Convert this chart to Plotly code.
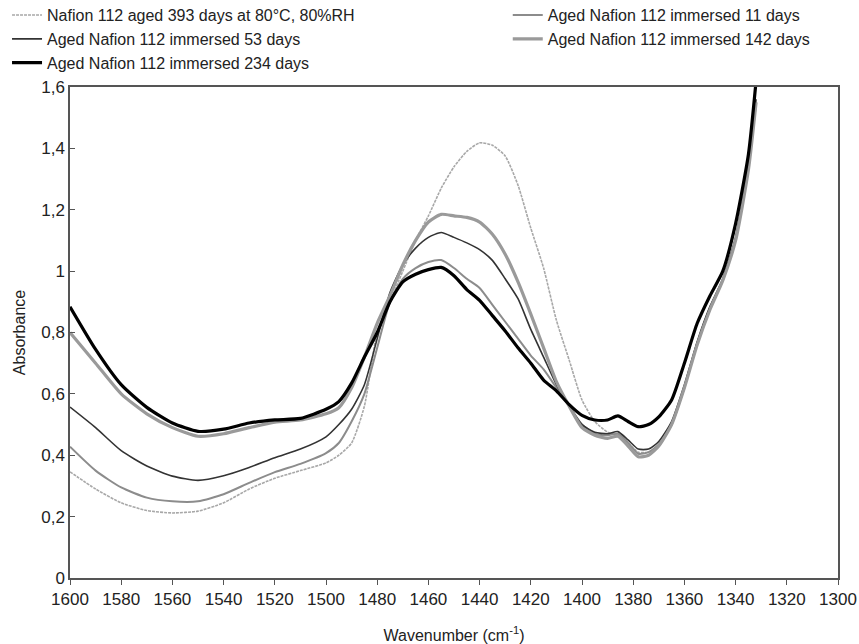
import plotly.graph_objects as go

wavenumber = [1600, 1590, 1580, 1570, 1560, 1550, 1540, 1530, 1520, 1510, 1500, 1495, 1490,
              1485, 1480, 1475, 1470, 1465, 1460, 1455, 1450, 1445, 1440, 1435, 1430, 1425,
              1420, 1415, 1410, 1405, 1400, 1395, 1390, 1386, 1382, 1378, 1374, 1370, 1365,
              1360, 1355, 1350, 1345, 1340, 1335, 1332]

aged_393 = [0.346, 0.29, 0.245, 0.22, 0.212, 0.218, 0.245, 0.29, 0.325, 0.35, 0.375, 0.40, 0.44,
            0.56, 0.80, 0.90, 1.00, 1.10, 1.18, 1.27, 1.34, 1.39, 1.418, 1.41, 1.375, 1.28,
            1.14, 1.01, 0.84, 0.71, 0.58, 0.51, 0.475, 0.465, 0.44, 0.41, 0.41, 0.43, 0.50,
            0.62, 0.765, 0.88, 0.97, 1.10, 1.33, 1.55]
imm_11 = [0.428, 0.35, 0.295, 0.262, 0.25, 0.25, 0.273, 0.31, 0.345, 0.372, 0.407, 0.44, 0.51,
          0.60, 0.75, 0.90, 0.975, 1.01, 1.03, 1.036, 1.01, 0.975, 0.945, 0.89, 0.835, 0.78,
          0.725, 0.68, 0.62, 0.56, 0.50, 0.47, 0.465, 0.47, 0.44, 0.405, 0.41, 0.435, 0.50,
          0.62, 0.765, 0.88, 0.97, 1.105, 1.335, 1.55]
imm_53 = [0.557, 0.49, 0.415, 0.365, 0.332, 0.318, 0.333, 0.36, 0.392, 0.42, 0.46, 0.50, 0.55,
          0.63, 0.78, 0.93, 1.02, 1.075, 1.11, 1.126, 1.11, 1.092, 1.07, 1.035, 0.975, 0.91,
          0.81, 0.72, 0.63, 0.56, 0.50, 0.475, 0.47, 0.477, 0.45, 0.42, 0.42, 0.445, 0.51,
          0.63, 0.77, 0.885, 0.975, 1.11, 1.34, 1.56]
imm_142 = [0.80, 0.70, 0.60, 0.535, 0.49, 0.462, 0.47, 0.49, 0.508, 0.515, 0.535, 0.555, 0.62,
           0.72, 0.83, 0.92, 1.02, 1.10, 1.16, 1.185, 1.18, 1.175, 1.16, 1.12, 1.055, 0.965,
           0.86, 0.75, 0.64, 0.56, 0.49, 0.465, 0.455, 0.462, 0.43, 0.395, 0.40, 0.43, 0.50,
           0.62, 0.76, 0.875, 0.97, 1.10, 1.33, 1.55]
imm_234 = [0.884, 0.745, 0.63, 0.556, 0.505, 0.478, 0.485, 0.505, 0.515, 0.52, 0.55, 0.575, 0.635,
           0.72, 0.80, 0.90, 0.965, 0.99, 1.005, 1.012, 0.985, 0.94, 0.905, 0.855, 0.805, 0.75,
           0.70, 0.645, 0.61, 0.565, 0.53, 0.515, 0.515, 0.528, 0.51, 0.493, 0.50, 0.525, 0.58,
           0.70, 0.83, 0.92, 1.00, 1.155, 1.38, 1.62]

series_names = ["Nafion 112 aged 393 days at 80°C, 80%RH",
                "Aged Nafion 112 immersed 11 days",
                "Aged Nafion 112 immersed 53 days",
                "Aged Nafion 112 immersed 142 days",
                "Aged Nafion 112 immersed 234 days"]
series_values = [aged_393, imm_11, imm_53, imm_142, imm_234]
series_colors = ["#a8a8a8", "#8c8c8c", "#333333", "#9a9a9a", "#000000"]
series_widths = [1.6, 2.0, 1.6, 3.2, 3.2]
series_dash = ["3px,1px", "solid", "solid", "solid", "solid"]
series_legend = ["legend", "legend2", "legend", "legend2", "legend"]

y_tickvals = [0, 0.2, 0.4, 0.6, 0.8, 1.0, 1.2, 1.4, 1.6]
y_ticktext = ["0", "0,2", "0,4", "0,6", "0,8", "1", "1,2", "1,4", "1,6"]
x_tickvals = list(range(1600, 1299, -20))

fig = go.Figure()
for name, vals, col, w, d, lg in zip(series_names, series_values, series_colors,
                                     series_widths, series_dash, series_legend):
    fig.add_trace(go.Scatter(x=wavenumber, y=vals, mode="lines", name=name, legend=lg,
                             line=dict(color=col, width=w, dash=d, shape="spline", smoothing=0.6)))

font_family = "Liberation Sans, Arial, sans-serif"
legend_common = dict(orientation="v", yanchor="top", xanchor="left", itemwidth=30,
                     tracegroupgap=0, font=dict(size=16, color="#222"),
                     bgcolor="rgba(0,0,0,0)")
fig.update_layout(
    width=859, height=644,
    margin=dict(l=70, r=21, t=87, b=66, autoexpand=False),
    paper_bgcolor="white", plot_bgcolor="white",
    font=dict(family=font_family, size=16, color="#222"),
    legend=dict(x=-0.082, y=1.181, **legend_common),
    legend2=dict(x=0.570, y=1.181, **legend_common),
    xaxis=dict(range=[1600, 1300], tickvals=x_tickvals, showgrid=False, zeroline=False,
               showline=True, linecolor="#555", linewidth=1.5, mirror=True,
               ticks="outside", ticklen=5, tickcolor="#555",
               title=dict(text="Wavenumber (cm<sup>-1</sup>)", font=dict(size=16), standoff=24),
               tickfont=dict(size=17)),
    yaxis=dict(range=[0, 1.6], tickvals=y_tickvals, ticktext=y_ticktext, showgrid=False,
               zeroline=False, showline=True, linecolor="#555", linewidth=1.5, mirror=True,
               ticks="inside", ticklen=5, tickcolor="#555",
               title=dict(text="Absorbance", font=dict(size=16), standoff=12),
               tickfont=dict(size=17)),
)

fig.write_html("out.html", config={"displayModeBar": False},
               post_script="document.body.style.margin='0';document.body.style.overflow='hidden';")
